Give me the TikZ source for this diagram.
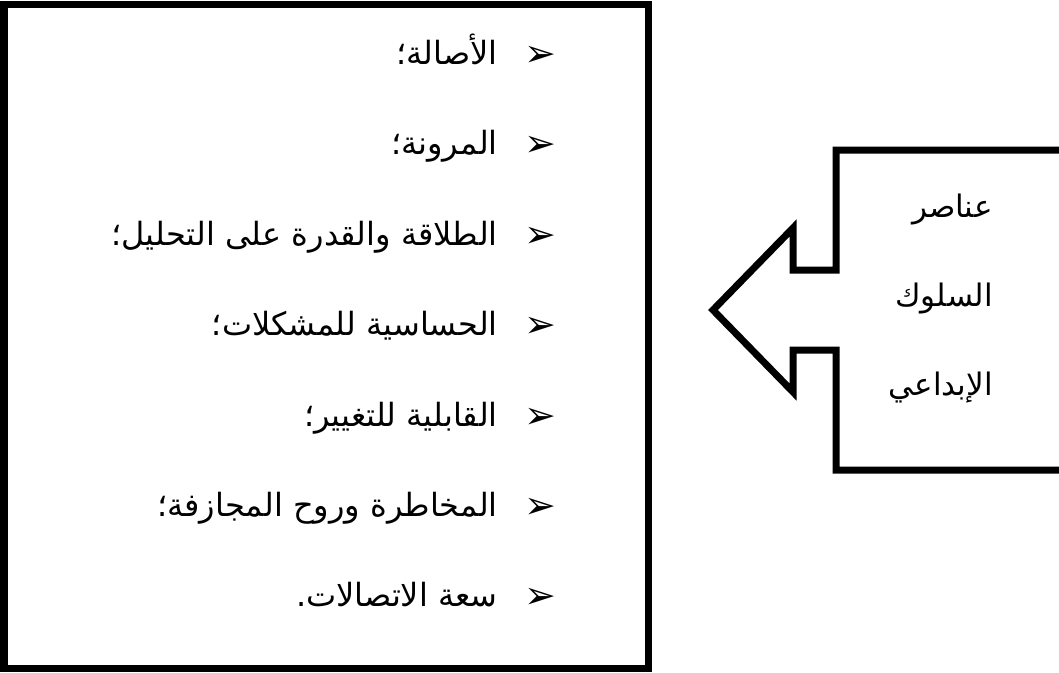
\documentclass[tikz,border=0pt]{standalone}
\usepackage{fontspec}
\newfontfamily\arabicfont[Script=Arabic]{DejaVu Sans}
\newfontfamily\symfont{DejaVu Sans Bold}
\TeXXeTstate=1
\usetikzlibrary{positioning}

\begin{document}
\begin{tikzpicture}[x=1pt,y=-1pt,node distance=57pt and 26pt,
  frame/.style={draw=black,line width=7pt,line join=miter},
  bul/.style={font=\symfont\fontsize{38}{44}\selectfont,inner sep=0pt,
    text height=26pt,text depth=7pt},
  item/.style={font=\arabicfont\fontsize{32}{38}\selectfont,inner sep=0pt,
    text height=24pt,text depth=9pt},
  word/.style={font=\arabicfont\fontsize{31}{36}\selectfont,inner sep=0pt,anchor=base east}]
  \useasboundingbox (0,0) rectangle (1059,672);
  % list box
  \draw[frame] (4,4) rectangle (648,668);
  \node[bul] (b1) at (540,57) {➢};
  \node[bul,below=of b1] (b2) {➢};
  \node[bul,below=of b2] (b3) {➢};
  \node[bul,below=of b3] (b4) {➢};
  \node[bul,below=of b4] (b5) {➢};
  \node[bul,below=of b5] (b6) {➢};
  \node[bul,below=of b6] (b7) {➢};
  \node[item,left=of b1] (t1) {\beginR الأصالة؛\endR};
  \node[item,left=of b2] (t2) {\beginR المرونة؛\endR};
  \node[item,left=of b3] (t3) {\beginR الطلاقة والقدرة على التحليل؛\endR};
  \node[item,left=of b4] (t4) {\beginR الحساسية للمشكلات؛\endR};
  \node[item,left=of b5] (t5) {\beginR القابلية للتغيير؛\endR};
  \node[item,left=of b6] (t6) {\beginR المخاطرة وروح المجازفة؛\endR};
  \node[item,left=of b7] (t7) {\beginR سعة الاتصالات.\endR};
  % arrow box
  \draw[frame] (1075,150) -- (836,150) -- (836,270) -- (793,270) -- (793,228)
    -- (713,310) -- (793,392) -- (793,350) -- (836,350) -- (836,470) -- (1075,470);
  \node[word] (w1) at (993,217) {\beginR عناصر\endR};
  \node[word] (w2) at (993,306) {\beginR السلوك\endR};
  \node[word] (w3) at (993,395) {\beginR الإبداعي\endR};
\end{tikzpicture}
\end{document}
